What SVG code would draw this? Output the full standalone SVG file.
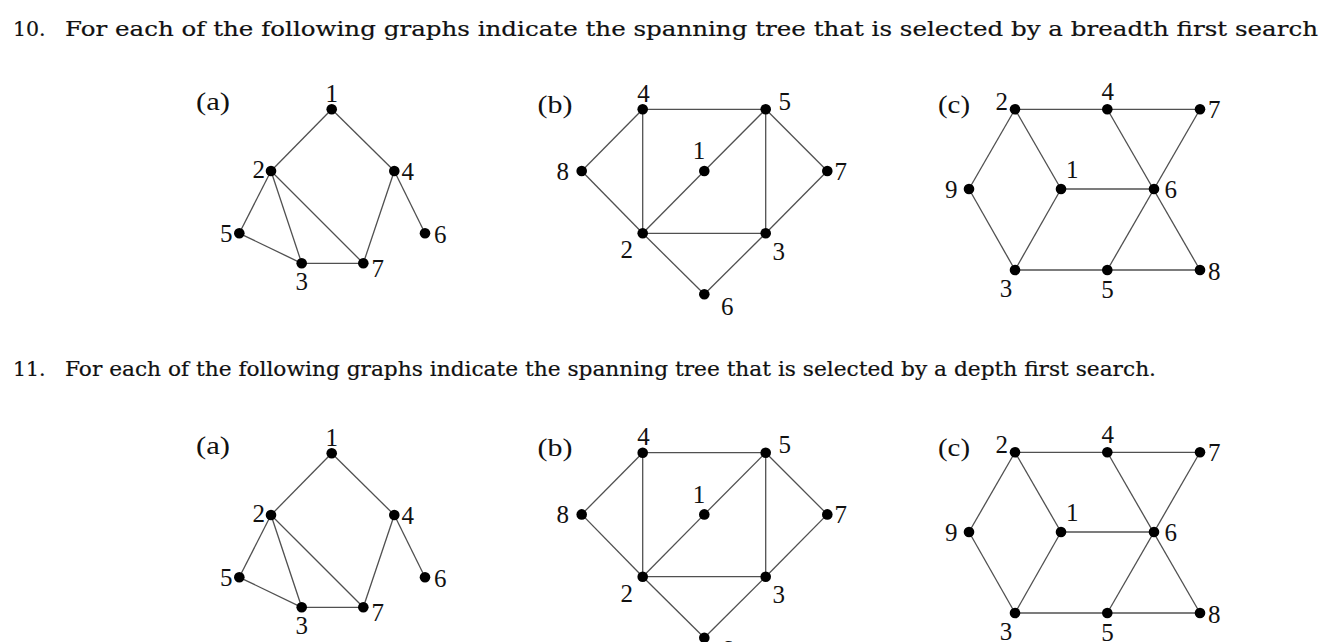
<svg xmlns="http://www.w3.org/2000/svg" width="1334" height="642" viewBox="0 0 1334 642">
<style>
.bg{fill:#fff}
.h{font-family:"DejaVu Serif","Liberation Serif",serif;font-size:20.5px;fill:#111;stroke:#111;stroke-width:0.2}
.e line{stroke:#505050;stroke-width:1.3}
.n circle{fill:#000}
.n text,.lab{font-family:"Liberation Serif","DejaVu Serif",serif;font-size:25px;fill:#111}
.m{text-anchor:middle}
.r{text-anchor:end}
</style>
<rect class="bg" x="0" y="0" width="1334" height="642"/>
<text class="h" x="13" y="36">10.</text>
<text class="h" x="65" y="36" textLength="1253" lengthAdjust="spacingAndGlyphs">For each of the following graphs indicate the spanning tree that is selected by a breadth first search</text>
<text class="h" x="13" y="376">11.</text>
<text class="h" x="65" y="376" textLength="1091" lengthAdjust="spacingAndGlyphs">For each of the following graphs indicate the spanning tree that is selected by a depth first search.</text>

<!-- Top (a) -->
<g id="top-a">
<text class="lab" x="196" y="110" textLength="34" lengthAdjust="spacingAndGlyphs">(a)</text>
<g class="e" id="top-a-edges">
<line x1="331.7" y1="109.3" x2="271" y2="171"/>
<line x1="331.7" y1="109.3" x2="394.3" y2="171"/>
<line x1="271" y1="171" x2="239.3" y2="233.3"/>
<line x1="271" y1="171" x2="301.7" y2="263.3"/>
<line x1="271" y1="171" x2="363.3" y2="263.3"/>
<line x1="239.3" y1="233.3" x2="301.7" y2="263.3"/>
<line x1="301.7" y1="263.3" x2="363.3" y2="263.3"/>
<line x1="394.3" y1="171" x2="363.3" y2="263.3"/>
<line x1="394.3" y1="171" x2="425" y2="233.3"/>
</g>
<g class="n" id="ta1"><circle cx="331.7" cy="109.3" r="5.3"/><text class="m" x="331.7" y="101.5">1</text></g>
<g class="n" id="ta2"><circle cx="271" cy="171" r="5.3"/><text class="r" x="265" y="178.3">2</text></g>
<g class="n" id="ta4"><circle cx="394.3" cy="171" r="5.3"/><text x="401.5" y="179.5">4</text></g>
<g class="n" id="ta5"><circle cx="239.3" cy="233.3" r="5.3"/><text class="r" x="232.5" y="241.7">5</text></g>
<g class="n" id="ta6"><circle cx="425" cy="233.3" r="5.3"/><text x="434" y="242.5">6</text></g>
<g class="n" id="ta3"><circle cx="301.7" cy="263.3" r="5.3"/><text class="m" x="301.7" y="290">3</text></g>
<g class="n" id="ta7"><circle cx="363.3" cy="263.3" r="5.3"/><text x="371.5" y="276.5">7</text></g>
</g>

<!-- Top (b) -->
<g id="top-b">
<text class="lab" x="537.5" y="113" textLength="35" lengthAdjust="spacingAndGlyphs">(b)</text>
<g class="e" id="top-b-edges">
<line x1="642.7" y1="109.3" x2="765.7" y2="109.3"/>
<line x1="642.7" y1="109.3" x2="581.7" y2="171"/>
<line x1="642.7" y1="109.3" x2="642.7" y2="233.3"/>
<line x1="581.7" y1="171" x2="642.7" y2="233.3"/>
<line x1="765.7" y1="109.3" x2="704.3" y2="171"/>
<line x1="704.3" y1="171" x2="642.7" y2="233.3"/>
<line x1="765.7" y1="109.3" x2="765.7" y2="233.3"/>
<line x1="765.7" y1="109.3" x2="827.3" y2="171"/>
<line x1="827.3" y1="171" x2="765.7" y2="233.3"/>
<line x1="642.7" y1="233.3" x2="765.7" y2="233.3"/>
<line x1="642.7" y1="233.3" x2="704.3" y2="294.3"/>
<line x1="704.3" y1="294.3" x2="765.7" y2="233.3"/>
</g>
<g class="n" id="tb4"><circle cx="642.7" cy="109.3" r="5.3"/><text class="m" x="643.5" y="101.5">4</text></g>
<g class="n" id="tb5"><circle cx="765.7" cy="109.3" r="5.3"/><text x="778.5" y="109.5">5</text></g>
<g class="n" id="tb8"><circle cx="581.7" cy="171" r="5.3"/><text class="r" x="569" y="180">8</text></g>
<g class="n" id="tb1"><circle cx="704.3" cy="171" r="5.3"/><text class="m" x="699" y="159.3">1</text></g>
<g class="n" id="tb7"><circle cx="827.3" cy="171" r="5.3"/><text x="834.5" y="180">7</text></g>
<g class="n" id="tb2"><circle cx="642.7" cy="233.3" r="5.3"/><text class="m" x="626.7" y="258.3">2</text></g>
<g class="n" id="tb3"><circle cx="765.7" cy="233.3" r="5.3"/><text x="772.5" y="260">3</text></g>
<g class="n" id="tb6"><circle cx="704.3" cy="294.3" r="5.3"/><text x="721" y="315">6</text></g>
</g>

<!-- Top (c) -->
<g id="top-c">
<text class="lab" x="938" y="113" textLength="32" lengthAdjust="spacingAndGlyphs">(c)</text>
<g class="e" id="top-c-edges">
<line x1="1015" y1="109.3" x2="1200" y2="109.3"/>
<line x1="1015" y1="109.3" x2="969" y2="189"/>
<line x1="1015" y1="109.3" x2="1061" y2="189"/>
<line x1="969" y1="189" x2="1015" y2="270"/>
<line x1="1061" y1="189" x2="1015" y2="270"/>
<line x1="1061" y1="189" x2="1154" y2="189"/>
<line x1="1107.3" y1="109.3" x2="1200" y2="270"/>
<line x1="1200" y1="109.3" x2="1107.3" y2="270"/>
<line x1="1015" y1="270" x2="1200" y2="270"/>
</g>
<g class="n" id="tc2"><circle cx="1015" cy="109.3" r="5.3"/><text class="r" x="1008" y="109.5">2</text></g>
<g class="n" id="tc4"><circle cx="1107.3" cy="109.3" r="5.3"/><text class="m" x="1107.8" y="100">4</text></g>
<g class="n" id="tc7"><circle cx="1200" cy="109.3" r="5.3"/><text x="1208" y="117.5">7</text></g>
<g class="n" id="tc9"><circle cx="969" cy="189" r="5.3"/><text class="r" x="957.5" y="198.3">9</text></g>
<g class="n" id="tc1"><circle cx="1061" cy="189" r="5.3"/><text x="1066" y="178.3">1</text></g>
<g class="n" id="tc6"><circle cx="1154" cy="189" r="5.3"/><text x="1164.5" y="198.3">6</text></g>
<g class="n" id="tc3"><circle cx="1015" cy="270" r="5.3"/><text class="m" x="1006" y="296.7">3</text></g>
<g class="n" id="tc5"><circle cx="1107.3" cy="270" r="5.3"/><text class="m" x="1107.5" y="298">5</text></g>
<g class="n" id="tc8"><circle cx="1200" cy="270" r="5.3"/><text x="1208" y="280">8</text></g>
</g>

<!-- Bottom (a) -->
<g id="bot-a" transform="translate(0,344)">
<text class="lab" x="196" y="110" textLength="34" lengthAdjust="spacingAndGlyphs">(a)</text>
<g class="e" id="bot-a-edges">
<line x1="331.7" y1="109.3" x2="271" y2="171"/>
<line x1="331.7" y1="109.3" x2="394.3" y2="171"/>
<line x1="271" y1="171" x2="239.3" y2="233.3"/>
<line x1="271" y1="171" x2="301.7" y2="263.3"/>
<line x1="271" y1="171" x2="363.3" y2="263.3"/>
<line x1="239.3" y1="233.3" x2="301.7" y2="263.3"/>
<line x1="301.7" y1="263.3" x2="363.3" y2="263.3"/>
<line x1="394.3" y1="171" x2="363.3" y2="263.3"/>
<line x1="394.3" y1="171" x2="425" y2="233.3"/>
</g>
<g class="n" id="ba1"><circle cx="331.7" cy="109.3" r="5.3"/><text class="m" x="331.7" y="101.5">1</text></g>
<g class="n" id="ba2"><circle cx="271" cy="171" r="5.3"/><text class="r" x="265" y="178.3">2</text></g>
<g class="n" id="ba4"><circle cx="394.3" cy="171" r="5.3"/><text x="401.5" y="179.5">4</text></g>
<g class="n" id="ba5"><circle cx="239.3" cy="233.3" r="5.3"/><text class="r" x="232.5" y="241.7">5</text></g>
<g class="n" id="ba6"><circle cx="425" cy="233.3" r="5.3"/><text x="434" y="242.5">6</text></g>
<g class="n" id="ba3"><circle cx="301.7" cy="263.3" r="5.3"/><text class="m" x="301.7" y="290">3</text></g>
<g class="n" id="ba7"><circle cx="363.3" cy="263.3" r="5.3"/><text x="371.5" y="276.5">7</text></g>
</g>

<!-- Bottom (b) -->
<g id="bot-b" transform="translate(0,343.4)">
<text class="lab" x="537.5" y="113" textLength="35" lengthAdjust="spacingAndGlyphs">(b)</text>
<g class="e" id="bot-b-edges">
<line x1="642.7" y1="109.3" x2="765.7" y2="109.3"/>
<line x1="642.7" y1="109.3" x2="581.7" y2="171"/>
<line x1="642.7" y1="109.3" x2="642.7" y2="233.3"/>
<line x1="581.7" y1="171" x2="642.7" y2="233.3"/>
<line x1="765.7" y1="109.3" x2="704.3" y2="171"/>
<line x1="704.3" y1="171" x2="642.7" y2="233.3"/>
<line x1="765.7" y1="109.3" x2="765.7" y2="233.3"/>
<line x1="765.7" y1="109.3" x2="827.3" y2="171"/>
<line x1="827.3" y1="171" x2="765.7" y2="233.3"/>
<line x1="642.7" y1="233.3" x2="765.7" y2="233.3"/>
<line x1="642.7" y1="233.3" x2="704.3" y2="294.3"/>
<line x1="704.3" y1="294.3" x2="765.7" y2="233.3"/>
</g>
<g class="n" id="bb4"><circle cx="642.7" cy="109.3" r="5.3"/><text class="m" x="643.5" y="101.5">4</text></g>
<g class="n" id="bb5"><circle cx="765.7" cy="109.3" r="5.3"/><text x="778.5" y="109.5">5</text></g>
<g class="n" id="bb8"><circle cx="581.7" cy="171" r="5.3"/><text class="r" x="569" y="180">8</text></g>
<g class="n" id="bb1"><circle cx="704.3" cy="171" r="5.3"/><text class="m" x="699" y="159.3">1</text></g>
<g class="n" id="bb7"><circle cx="827.3" cy="171" r="5.3"/><text x="834.5" y="180">7</text></g>
<g class="n" id="bb2"><circle cx="642.7" cy="233.3" r="5.3"/><text class="m" x="626.7" y="258.3">2</text></g>
<g class="n" id="bb3"><circle cx="765.7" cy="233.3" r="5.3"/><text x="772.5" y="260">3</text></g>
<g class="n" id="bb6"><circle cx="704.3" cy="294.3" r="5.3"/><text x="721" y="315">6</text></g>
</g>

<!-- Bottom (c) -->
<g id="bot-c" transform="translate(0,343)">
<text class="lab" x="938" y="113" textLength="32" lengthAdjust="spacingAndGlyphs">(c)</text>
<g class="e" id="bot-c-edges">
<line x1="1015" y1="109.3" x2="1200" y2="109.3"/>
<line x1="1015" y1="109.3" x2="969" y2="189"/>
<line x1="1015" y1="109.3" x2="1061" y2="189"/>
<line x1="969" y1="189" x2="1015" y2="270"/>
<line x1="1061" y1="189" x2="1015" y2="270"/>
<line x1="1061" y1="189" x2="1154" y2="189"/>
<line x1="1107.3" y1="109.3" x2="1200" y2="270"/>
<line x1="1200" y1="109.3" x2="1107.3" y2="270"/>
<line x1="1015" y1="270" x2="1200" y2="270"/>
</g>
<g class="n" id="bc2"><circle cx="1015" cy="109.3" r="5.3"/><text class="r" x="1008" y="109.5">2</text></g>
<g class="n" id="bc4"><circle cx="1107.3" cy="109.3" r="5.3"/><text class="m" x="1107.8" y="100">4</text></g>
<g class="n" id="bc7"><circle cx="1200" cy="109.3" r="5.3"/><text x="1208" y="117.5">7</text></g>
<g class="n" id="bc9"><circle cx="969" cy="189" r="5.3"/><text class="r" x="957.5" y="198.3">9</text></g>
<g class="n" id="bc1"><circle cx="1061" cy="189" r="5.3"/><text x="1066" y="178.3">1</text></g>
<g class="n" id="bc6"><circle cx="1154" cy="189" r="5.3"/><text x="1164.5" y="198.3">6</text></g>
<g class="n" id="bc3"><circle cx="1015" cy="270" r="5.3"/><text class="m" x="1006" y="296.7">3</text></g>
<g class="n" id="bc5"><circle cx="1107.3" cy="270" r="5.3"/><text class="m" x="1107.5" y="298">5</text></g>
<g class="n" id="bc8"><circle cx="1200" cy="270" r="5.3"/><text x="1208" y="280">8</text></g>
</g>
</svg>
